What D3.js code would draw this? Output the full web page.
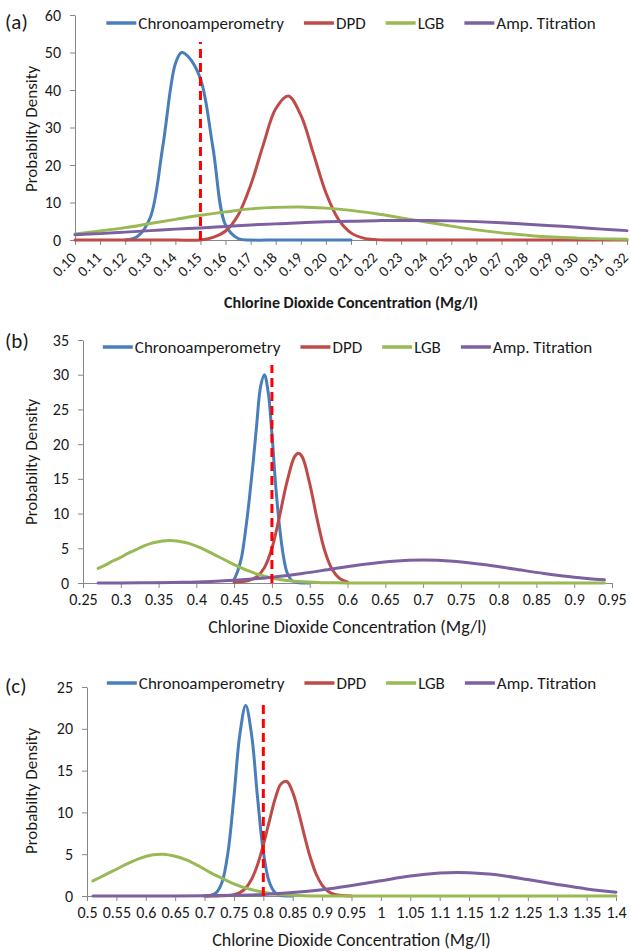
<!DOCTYPE html>
<html><head><meta charset="utf-8">
<script src="https://cdn.jsdelivr.net/npm/d3@7/dist/d3.min.js"></script>
<style>
body{margin:0;background:#fff}
svg{display:block}
text{font-family:Carlito,Lato,"Open Sans",sans-serif;fill:#1a1a1a}
</style>
</head><body>
<svg id="chart" width="631" height="951"></svg>
<script>
// ---------- shared ----------
const seriesNames = ["Chronoamperometry", "DPD", "LGB", "Amp. Titration"];
const seriesColors = ["#4A7EBB", "#BE4B48", "#98B954", "#7D60A0"];
const panelLabels = ["(a)", "(b)", "(c)"];
const xTitle = "Chlorine Dioxide Concentration (Mg/l)";
const yTitle = "Probabilty Density";

// ---------- panel (a) ----------
const aXTicks = [0.10,0.11,0.12,0.13,0.14,0.15,0.16,0.17,0.18,0.19,0.20,0.21,0.22,0.23,0.24,0.25,0.26,0.27,0.28,0.29,0.30,0.31,0.32];
const aXLabels = ["0.10","0.11","0.12","0.13","0.14","0.15","0.16","0.17","0.18","0.19","0.20","0.21","0.22","0.23","0.24","0.25","0.26","0.27","0.28","0.29","0.30","0.31","0.32"];
const aYTicks = [0,10,20,30,40,50,60];
const aChrono = [[0.12,0],[0.125,1],[0.13,6],[0.135,25],[0.14,47],[0.1425,50],[0.145,49],[0.15,43],[0.155,24.5],[0.16,4],[0.165,0.4],[0.17,0],[0.18,0],[0.19,0],[0.20,0],[0.21,0]];
const aDPD = [[0.10,0],[0.12,0],[0.14,0],[0.15,0],[0.155,0.7],[0.16,2.4],[0.165,6.6],[0.17,14.6],[0.175,25.3],[0.18,35],[0.185,38.4],[0.19,33.3],[0.195,23.1],[0.20,12.6],[0.205,5.5],[0.21,1.9],[0.215,0.5],[0.22,0.1],[0.225,0],[0.23,0],[0.25,0],[0.28,0],[0.32,0]];
const aLGB = [[0.10,1.6],[0.11,2.4],[0.12,3.3],[0.13,4.4],[0.14,5.5],[0.15,6.6],[0.16,7.5],[0.17,8.3],[0.18,8.7],[0.19,8.8],[0.20,8.5],[0.21,7.9],[0.22,7.0],[0.23,5.9],[0.24,4.8],[0.25,3.7],[0.26,2.7],[0.27,1.9],[0.28,1.3],[0.29,0.8],[0.30,0.5],[0.31,0.3],[0.32,0.2]];
const aAmp = [[0.10,1.4],[0.11,1.7],[0.12,2.1],[0.13,2.5],[0.14,2.9],[0.15,3.2],[0.16,3.6],[0.17,4.0],[0.18,4.3],[0.19,4.6],[0.20,4.85],[0.21,5.0],[0.22,5.15],[0.23,5.2],[0.24,5.2],[0.25,5.1],[0.26,4.9],[0.27,4.6],[0.28,4.2],[0.29,3.8],[0.30,3.4],[0.31,2.9],[0.32,2.5]];
const aRef = [0.15, 52.8];

// ---------- panel (b) ----------
const bXTicks = [0.25,0.3,0.35,0.4,0.45,0.5,0.55,0.6,0.65,0.7,0.75,0.8,0.85,0.9,0.95];
const bXLabels = ["0.25","0.3","0.35","0.4","0.45","0.5","0.55","0.6","0.65","0.7","0.75","0.8","0.85","0.9","0.95"];
const bYTicks = [0,5,10,15,20,25,30,35];
const bChrono = [[0.45,0.5],[0.455,1.8],[0.46,3.8],[0.465,7.5],[0.47,12],[0.475,17.2],[0.48,23],[0.485,28.3],[0.49,30],[0.495,27.5],[0.50,21.5],[0.505,14],[0.51,8.2],[0.515,4],[0.52,1.5],[0.525,0.5],[0.53,0.15],[0.54,0],[0.55,0]];
const bDPD = [[0.45,0.1],[0.46,0.2],[0.47,0.4],[0.48,0.9],[0.49,2.2],[0.50,5],[0.51,9.6],[0.52,14.6],[0.53,18.2],[0.535,18.7],[0.54,18.2],[0.55,14.3],[0.56,9.1],[0.57,4.6],[0.58,1.9],[0.59,0.6],[0.60,0.15]];
const bLGB = [[0.27,2.1],[0.28,2.6],[0.29,3.2],[0.30,3.7],[0.31,4.3],[0.32,4.8],[0.33,5.3],[0.34,5.7],[0.35,5.95],[0.36,6.1],[0.37,6.1],[0.38,5.95],[0.39,5.7],[0.40,5.3],[0.41,4.85],[0.42,4.3],[0.43,3.75],[0.44,3.2],[0.45,2.65],[0.46,2.15],[0.47,1.7],[0.48,1.3],[0.49,0.98],[0.50,0.72],[0.52,0.36],[0.54,0.17],[0.56,0.07],[0.58,0.03],[0.60,0.01],[0.65,0],[0.70,0],[0.80,0],[0.94,0]];
const bAmp = [[0.27,0.01],[0.30,0.01],[0.34,0.04],[0.38,0.10],[0.42,0.23],[0.46,0.46],[0.50,0.84],[0.54,1.38],[0.58,2.02],[0.62,2.65],[0.66,3.12],[0.70,3.3],[0.74,3.12],[0.78,2.65],[0.82,2.02],[0.86,1.38],[0.90,0.84],[0.94,0.46]];
const bRef = [0.5, 31.4];

// ---------- panel (c) ----------
const cXTicks = [0.5,0.55,0.6,0.65,0.7,0.75,0.8,0.85,0.9,0.95,1,1.05,1.1,1.15,1.2,1.25,1.3,1.35,1.4];
const cXLabels = ["0.5","0.55","0.6","0.65","0.7","0.75","0.8","0.85","0.9","0.95","1","1.05","1.1","1.15","1.2","1.25","1.3","1.35","1.4"];
const cYTicks = [0,5,10,15,20,25];
const cChrono = [[0.70,0],[0.71,0.06],[0.72,0.4],[0.73,1.7],[0.74,5.3],[0.75,11.9],[0.76,19.3],[0.77,22.8],[0.78,19.3],[0.79,11.9],[0.80,5.3],[0.81,1.7],[0.82,0.4],[0.83,0.06],[0.84,0],[0.85,0]];
const cDPD = [[0.70,0],[0.72,0],[0.73,0.02],[0.74,0.05],[0.75,0.15],[0.76,0.4],[0.77,0.94],[0.78,2],[0.79,3.7],[0.80,6.1],[0.81,8.9],[0.82,11.6],[0.83,13.4],[0.84,13.7],[0.85,12.4],[0.86,10],[0.87,7.2],[0.88,4.6],[0.89,2.6],[0.90,1.3],[0.91,0.56],[0.92,0.22],[0.93,0.08],[0.94,0.02],[0.95,0]];
const cLGB = [[0.51,1.8],[0.53,2.5],[0.55,3.2],[0.57,3.9],[0.59,4.5],[0.61,4.9],[0.63,5.0],[0.65,4.75],[0.67,4.3],[0.69,3.6],[0.71,2.8],[0.73,2.1],[0.75,1.45],[0.77,0.95],[0.79,0.6],[0.81,0.34],[0.83,0.18],[0.85,0.09],[0.87,0.04],[0.90,0.01],[0.95,0],[1.0,0],[1.1,0],[1.2,0],[1.3,0],[1.4,0]];
const cAmp = [[0.51,0],[0.55,0],[0.60,0],[0.65,0.01],[0.70,0.03],[0.75,0.08],[0.80,0.19],[0.85,0.41],[0.90,0.76],[0.95,1.26],[1.00,1.83],[1.05,2.39],[1.10,2.74],[1.13,2.8],[1.15,2.77],[1.20,2.5],[1.25,1.97],[1.30,1.38],[1.35,0.85],[1.40,0.46]];
const cRef = [0.8, 23.4];

// ---------- layout (positions only) ----------
const panels = [
  {label: panelLabels[0], xTicks: aXTicks, xLabels: aXLabels, yTicks: aYTicks, series: [aChrono, aDPD, aLGB, aAmp], ref: aRef,
   x0: 75, x1: 627, yTop: 15, yBot: 240, rotate: true, boldTitle: true, titleY: 308, legendY: 23, labelY: 22, yTitleY: 129},
  {label: panelLabels[1], xTicks: bXTicks, xLabels: bXLabels, yTicks: bYTicks, series: [bChrono, bDPD, bLGB, bAmp], ref: bRef,
   x0: 83, x1: 612, yTop: 340, yBot: 583, rotate: false, boldTitle: false, titleY: 633, legendY: 347, labelY: 341, yTitleY: 462},
  {label: panelLabels[2], xTicks: cXTicks, xLabels: cXLabels, yTicks: cYTicks, series: [cChrono, cDPD, cLGB, cAmp], ref: cRef,
   x0: 87, x1: 616, yTop: 687, yBot: 896, rotate: false, boldTitle: false, titleY: 946, legendY: 683, labelY: 686, yTitleY: 791}
];

const svg = d3.select("#chart");
const axisColor = "#888";

panels.forEach(p => {
  const xDom = d3.extent(p.xTicks);
  const yDom = d3.extent(p.yTicks);
  const x = d3.scaleLinear().domain(xDom).range([p.x0, p.x1]);
  const y = d3.scaleLinear().domain(yDom).range([p.yBot, p.yTop]);
  const g = svg.append("g");

  // y axis
  const yAxis = g.append("g").attr("transform", `translate(${p.x0},0)`)
    .call(d3.axisLeft(y).tickValues(p.yTicks).tickFormat(d3.format("d")).tickSize(5).tickSizeOuter(0).tickPadding(9));
  yAxis.select(".domain").attr("stroke", axisColor);
  yAxis.selectAll(".tick line").attr("stroke", axisColor);
  yAxis.selectAll(".tick text").attr("font-size", 16).style("font-family", "Carlito,Lato,sans-serif").attr("fill", "#1a1a1a");

  // x axis
  const xAxis = g.append("g").attr("transform", `translate(0,${p.yBot})`)
    .call(d3.axisBottom(x).tickValues(p.xTicks).tickFormat((d, i) => p.xLabels[i]).tickSize(5).tickSizeOuter(0).tickPadding(6));
  xAxis.select(".domain").attr("stroke", axisColor);
  xAxis.selectAll(".tick line").attr("stroke", axisColor);
  const xt = xAxis.selectAll(".tick text").attr("font-size", p.rotate ? 15 : 16)
    .style("font-family", "Carlito,Lato,sans-serif").attr("fill", "#1a1a1a");
  if (p.rotate) {
    xt.attr("text-anchor", "end").attr("dy", "0.35em").attr("y", 0)
      .attr("transform", "translate(-2,15) rotate(-45)");
  }

  // series
  const line = d3.line().x(d => x(d[0])).y(d => y(d[1])).curve(d3.curveCatmullRom.alpha(0.5));
  p.series.forEach((s, i) => {
    g.append("path").datum(s).attr("d", line).attr("fill", "none")
      .attr("stroke", seriesColors[i]).attr("stroke-width", 3).attr("stroke-linejoin", "round").attr("stroke-linecap", "round");
  });

  // reference dashed line
  g.append("line").attr("x1", x(p.ref[0])).attr("x2", x(p.ref[0])).attr("y1", y(0)).attr("y2", y(p.ref[1]))
    .attr("stroke", "#FF0000").attr("stroke-width", 3).attr("stroke-dasharray", "9,5");

  // legend
  const leg = g.append("g");
  let cx = 0;
  seriesNames.forEach((n, i) => {
    const it = leg.append("g").attr("transform", `translate(${cx},0)`);
    it.append("line").attr("x1", 0).attr("x2", 30).attr("y1", 0).attr("y2", 0)
      .attr("stroke", seriesColors[i]).attr("stroke-width", 3.5);
    const t = it.append("text").attr("x", 32).attr("y", 0).attr("dy", "0.35em").attr("font-size", 17).text(n);
    cx += 32 + t.node().getComputedTextLength() + 20;
  });
  const legW = cx - 20;
  leg.attr("transform", `translate(${(p.x0 + p.x1) / 2 - legW / 2},${p.legendY})`);

  // panel label
  svg.append("text").attr("x", 5).attr("y", p.labelY).attr("dy", "0.35em").attr("font-size", 21).text(p.label);

  // titles
  svg.append("text").attr("x", (p.x0 + p.x1) / 2).attr("y", p.titleY).attr("text-anchor", "middle")
    .attr("font-size", p.boldTitle ? 16 : 18).attr("font-weight", p.boldTitle ? "bold" : "normal").text(xTitle);
  svg.append("text").attr("transform", `translate(31,${p.yTitleY}) rotate(-90)`).attr("text-anchor", "middle")
    .attr("dy", "0.35em").attr("font-size", 17).text(yTitle);
});
</script>
</body></html>
